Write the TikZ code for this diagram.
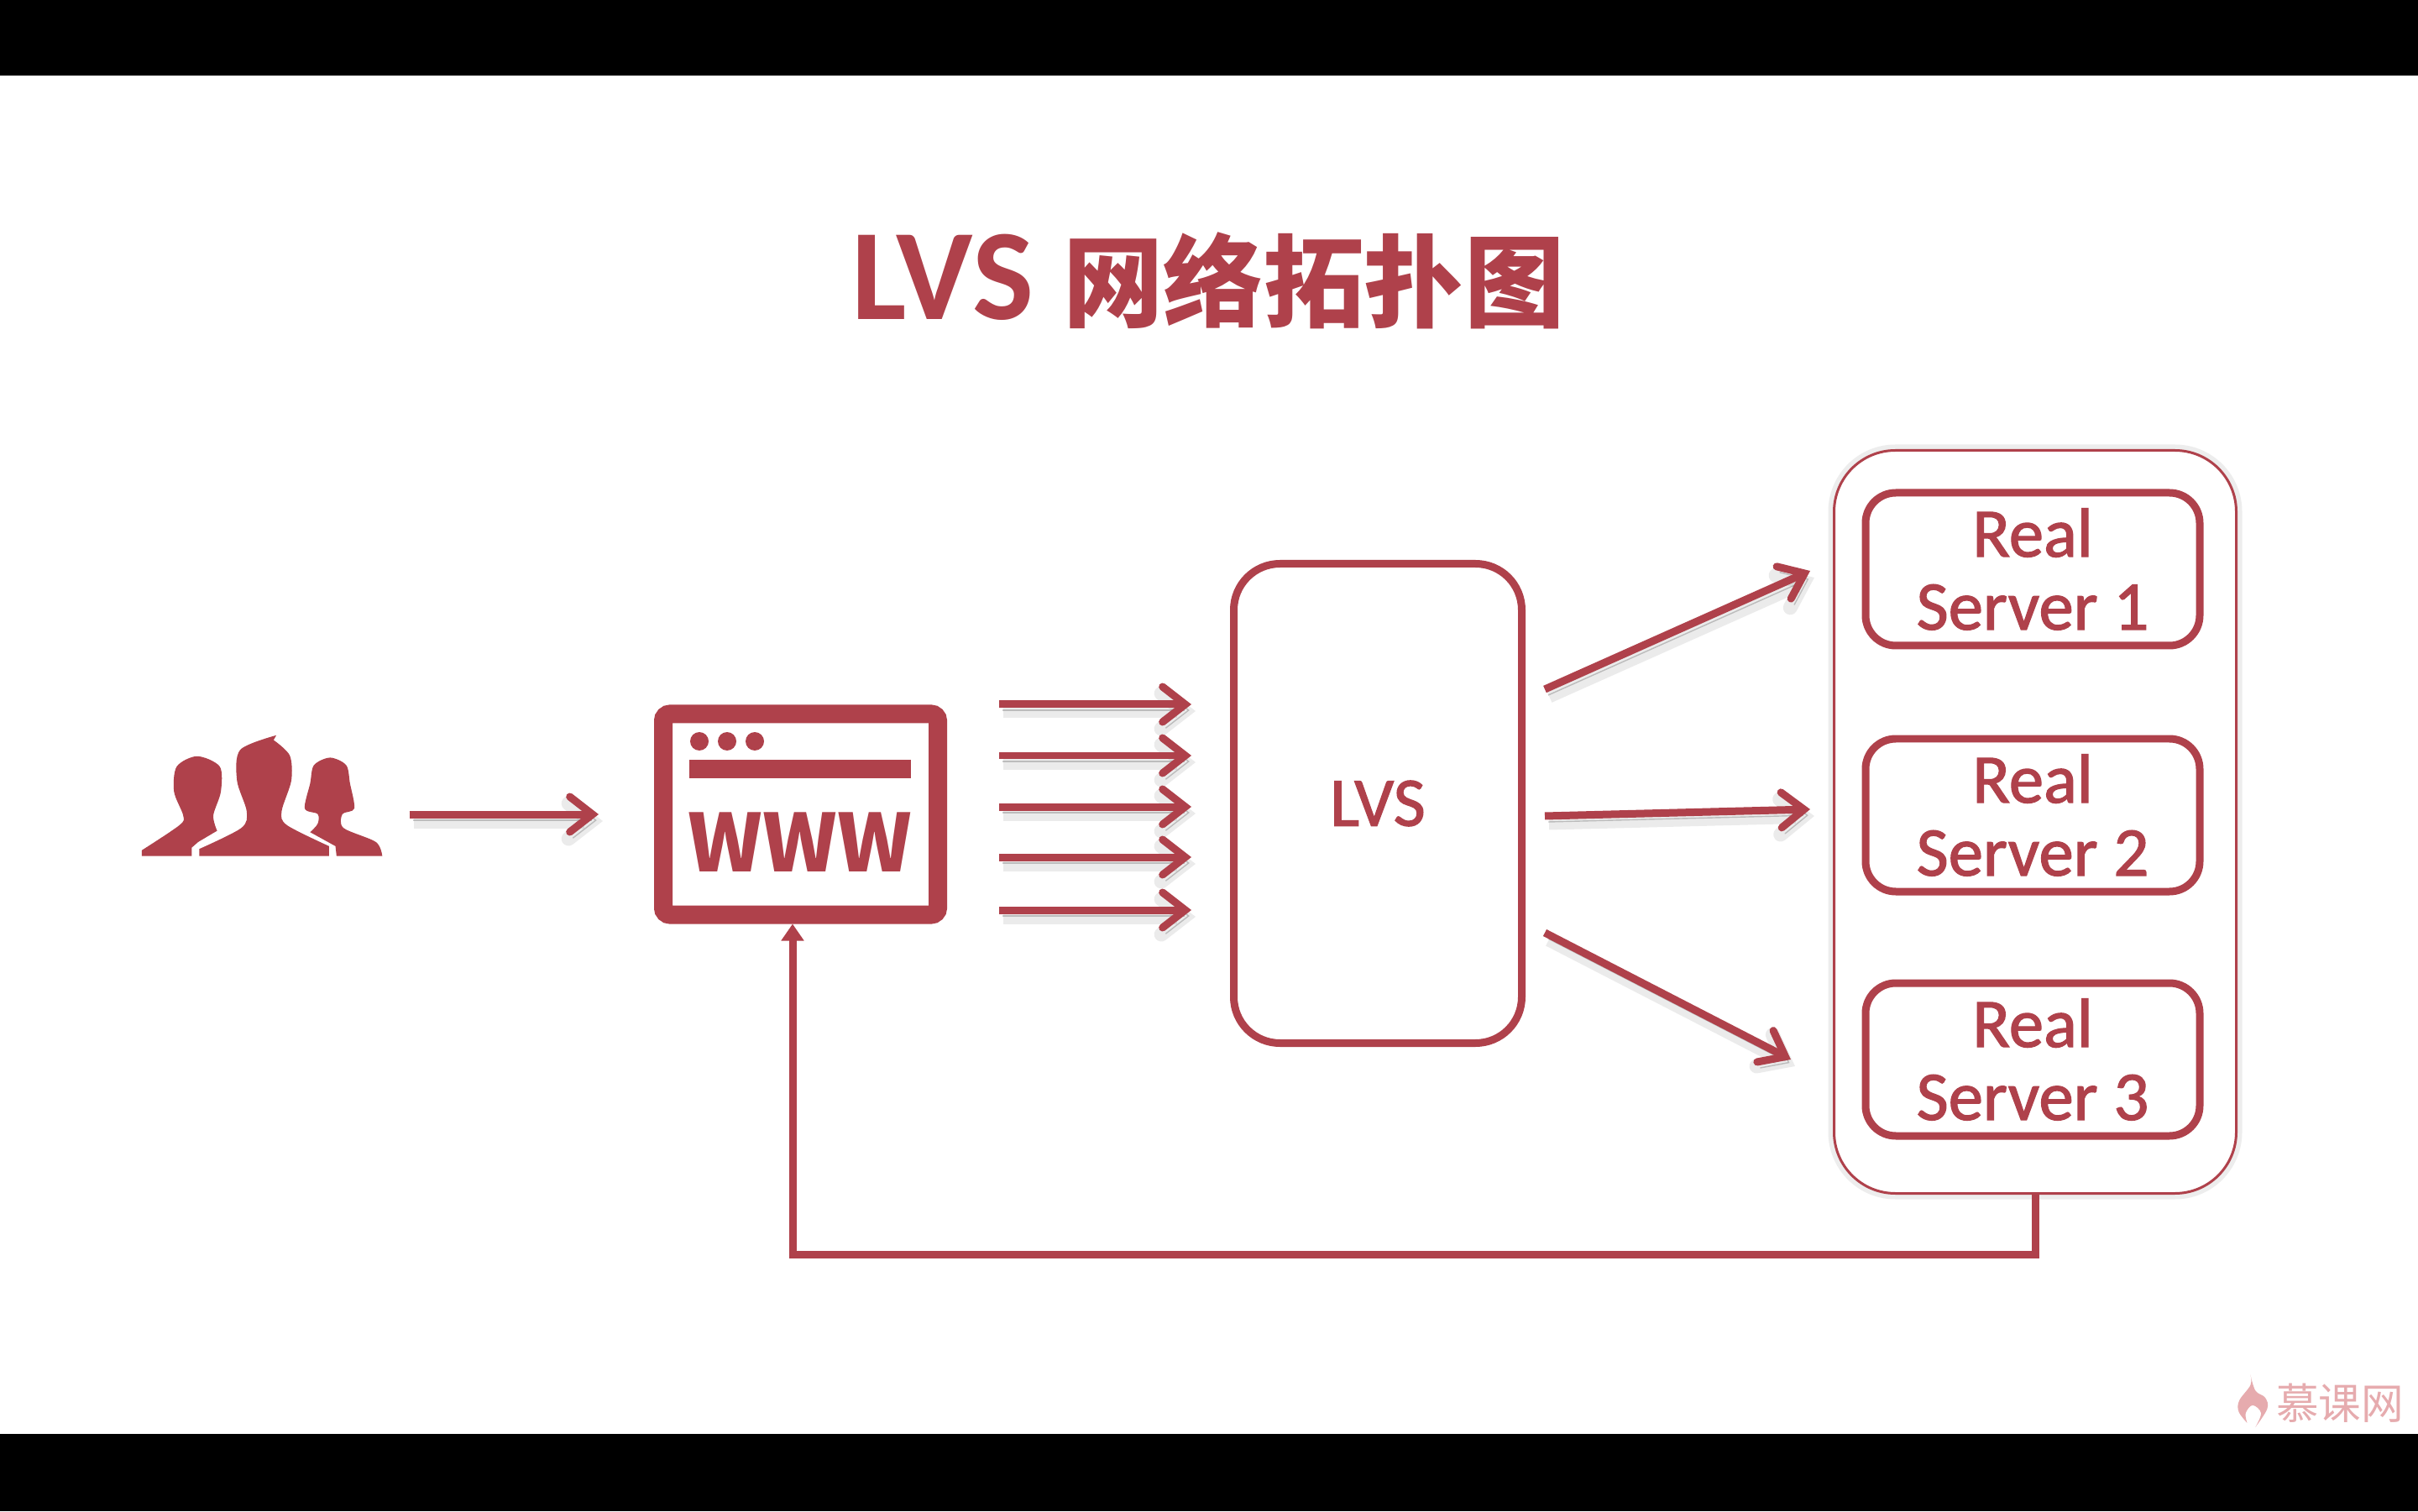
\documentclass[tikz,border=0pt]{standalone}
\usepackage{fontspec}
\setmainfont{Carlito}
\newfontfamily\serverfont{Carlito}[FakeBold=1.5]
\newfontfamily\cjk{Noto Sans CJK SC}
\usetikzlibrary{arrows.meta}
\definecolor{lvsred}{HTML}{AF414B}
\definecolor{markpink}{HTML}{E6ABAE}
\begin{document}
\begin{tikzpicture}[
            box/.style={
                rectangle,
                draw=lvsred,
                line width=0.09cm,
                inner sep=0pt,
                text=lvsred,
                align=center,
                font=\serverfont\fontsize{23.6}{24.7}\selectfont
            },
            server/.style={
                box,
                rounded corners=0.36cm,
                minimum width=3.98cm,
                minimum height=1.82cm
            },
            flow/.style={
                draw=lvsred,
                line width=0.09cm,
                -{Straight Barb[length=0.27cm,width=0.42cm,line cap=round]},
                preaction={
                    draw=black,
                    opacity=0.08,
                    line width=0.17cm,
                    transform canvas={xshift=0.05cm,yshift=-0.08cm}
                },
                preaction={
                    draw=black,
                    opacity=0.2,
                    transform canvas={xshift=0.04cm,yshift=-0.07cm}
                }
            }
        ]

            \useasboundingbox (0,0) rectangle (28.8,18);
            \fill[white] (0,0) rectangle (28.8,18);
            \fill[black] (0,17.1) rectangle (28.8,18);
            \fill[black] (0,0) rectangle (28.8,0.92);

            \node[text=lvsred, inner sep=0pt, font=\fontsize{44}{44}\selectfont\bfseries] (title) at (14.39, 14.66)
                {LVS {\cjk\fontsize{34}{34}\selectfont 网络拓扑图}};

            \node[inner sep=0pt, minimum width=2.85cm, minimum height=1.44cm] (users) at (3.115, 8.52) {};
            \begin{scope}[shift={(1.4,10)}, x=0.00641cm, y=-0.00333cm]
                \fill[lvsred] plot[smooth, tension=0.5] coordinates {(45,640) (115,550) (122,515) (105,430) (110,340) (148,303) (190,340) (192,430) (178,515) (185,570)} -- (150,610) -- (138,630) -- (138,660) -- (45,660) -- cycle;
                \fill[lvsred] plot[smooth, tension=0.5] coordinates {(152,635) (230,560) (240,500) (222,390) (228,280) (295,228)} -- (290,245) -- plot[smooth, tension=0.5] coordinates {(290,245) (320,300) (323,390) (305,500) (315,550) (393,625)} -- (393,660) -- (152,660) -- cycle;
                \fill[lvsred] plot[smooth, tension=0.5] coordinates {(358,575) (372,545) (372,510) (348,490) (358,400) (365,335) (395,308) (425,335) (432,400) (440,490) (418,510) (420,560) (480,610) (492,660)} -- (407,660) -- (405,625) -- cycle;
            \end{scope}

            \node[box, line width=0.22cm, rounded corners=0.08cm, minimum width=3.27cm, minimum height=2.39cm] (www) at (9.535, 8.30) {};
            \foreach \x in {8.33, 8.66, 8.99} {
                \fill[lvsred] (\x, 9.17) circle (0.11);
            }
            \fill[lvsred] (8.21, 8.73) rectangle (10.85, 8.95);
            \node[text=lvsred, inner sep=0pt, font=\cjk\bfseries\fontsize{27}{27}\selectfont] (wwwtext) at (9.53, 7.97) {WWW};

            \node[box, rounded corners=0.55cm, minimum width=3.43cm, minimum height=5.71cm] (lvs) at (16.41, 8.43) {LVS};

            \node[box, line width=0.03cm, rounded corners=0.73cm, minimum width=4.79cm, minimum height=8.85cm, fill=white, preaction={draw=black!7, line width=0.14cm}] (pool) at (24.24, 8.21) {};
            \node[server] (rs1) at (24.21, 11.22) {Real\\Server 1};
            \node[server] (rs2) at (24.21, 8.29) {Real\\Server 2};
            \node[server] (rs3) at (24.21, 5.38) {Real\\Server 3};

            \coordinate (a1) at (18.40, 9.79);
            \coordinate (b1) at (21.56, 11.20);
            \coordinate (a2) at (18.40, 8.28);
            \coordinate (b2) at (21.56, 8.36);
            \coordinate (a3) at (18.40, 6.89);
            \coordinate (b3) at (21.33, 5.38);

            \draw[flow, shorten <=0.33cm, shorten >=0.66cm] (users.east |- www.center) -- (www.west);
            \foreach \y in {9.61, 9.00, 8.39, 7.79, 7.16} {
                \draw[flow, shorten <=0.62cm, shorten >=0.46cm] (www.east |- 0,\y) -- (lvs.west |- 0,\y);
            }
            \foreach \i in {1, 2, 3} {
                \draw[flow] (a\i) -- (b\i);
            }

            \draw[draw=lvsred, line width=0.09cm, -{Triangle[length=0.2cm,width=0.26cm]}] (pool.south) -- ++(0,-0.71) -| ([xshift=-0.095cm]www.south);

            \node[text=markpink, inner sep=0pt, font=\cjk\fontsize{14.4}{14.4}\selectfont] (mark) at (27.87, 1.29) {慕课网};
            \begin{scope}[shift={(25.6,2)}, x=0.00333cm, y=-0.00333cm]
                \fill[markpink] plot[smooth, tension=0.6] coordinates {(362,113) (380,170) (415,195) (422,235) (380,300)} -- plot[smooth, tension=0.6] coordinates {(380,300) (400,250) (370,222) (345,250) (350,285)} -- plot[smooth, tension=0.6] coordinates {(350,285) (320,245) (322,205) (362,150) (362,113)} -- cycle;
            \end{scope}

        \end{tikzpicture}
\end{document}
